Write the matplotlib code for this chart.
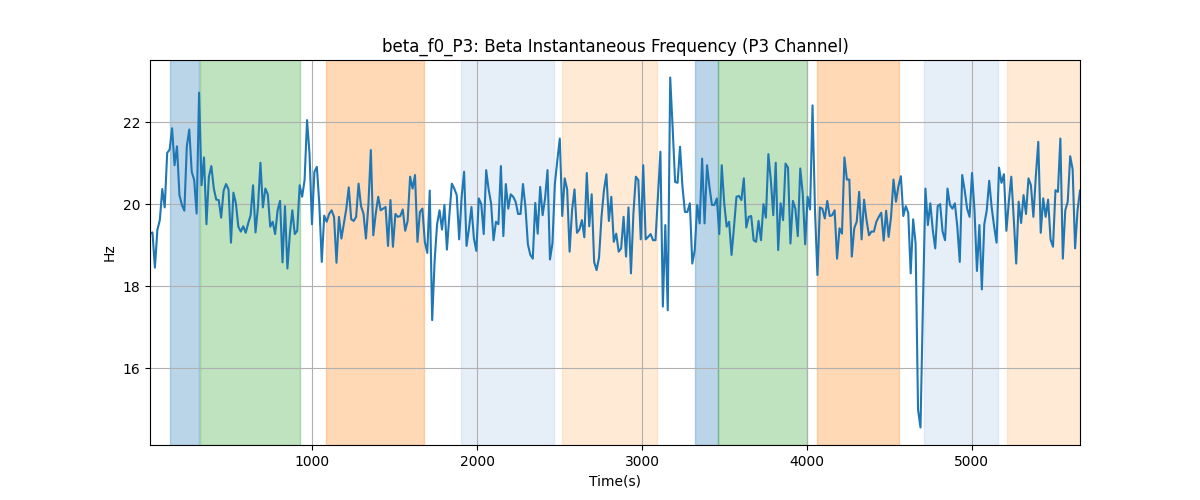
import numpy as np
import matplotlib
matplotlib.use('Agg')
import matplotlib.pyplot as plt

# instantaneous beta frequency (Hz)
freq = [
    19.28, 19.31, 18.45, 19.37, 19.61, 20.37, 19.92, 21.25, 21.33, 21.85,
    20.95, 21.41, 20.22, 19.98, 19.84, 21.41, 21.82, 20.79, 20.59, 19.77,
    22.72, 20.46, 21.14, 19.51, 20.67, 20.93, 20.38, 20.11, 20.10, 19.67,
    20.33, 20.49, 20.36, 19.06, 20.28, 20.02, 19.45, 19.33, 19.46, 19.30,
    19.53, 19.73, 20.46, 19.31, 19.93, 21.01, 19.92, 20.38,
    20.24, 19.45, 19.57, 19.27, 19.85, 20.08, 18.58, 19.95, 18.43, 19.28,
    19.85, 19.27, 19.35, 20.46, 20.18, 20.59, 22.05, 21.24, 19.51, 20.79,
    20.91, 20.00, 18.59, 19.72, 19.57, 19.76, 19.85, 19.69, 18.57, 19.69,
    19.16, 19.53, 19.89, 20.41, 19.63, 19.59, 19.69, 20.50, 19.95, 19.77,
    19.16, 19.98, 21.32, 19.24, 19.77, 20.18,
    19.85, 19.89, 19.93, 18.98, 20.10, 18.96, 19.76, 19.69, 19.71, 19.87,
    19.35, 19.59, 20.67, 20.38, 20.71, 19.08, 19.81, 19.89, 19.08, 18.81,
    20.33, 17.17, 18.63, 19.51, 19.85, 19.38, 19.98, 18.89, 19.73, 20.50,
    20.38, 20.22, 19.14, 20.18, 20.79, 18.98, 19.41, 19.93, 19.16, 18.86,
    20.14, 20.00, 19.27, 20.83, 20.36, 20.02, 19.12, 19.57,
    19.51, 20.93, 19.22, 20.49, 19.89, 20.24, 20.18, 20.06, 19.76, 19.76,
    20.49, 19.93, 19.02, 18.76, 18.67, 20.03, 19.28, 20.42, 19.73, 20.14,
    20.83, 18.65, 19.04, 20.50, 21.07, 21.60, 19.71, 20.63, 20.36, 18.84,
    19.85, 20.36, 19.30, 19.38, 19.61, 19.19, 20.76, 19.46, 20.24, 18.59,
    18.39, 18.70, 19.69, 20.34, 20.73, 19.59, 20.18, 19.08,
    19.28, 18.84, 18.92, 19.69, 18.72, 19.92, 18.31, 19.77, 20.67, 20.59,
    19.14, 20.95, 19.14, 19.20, 19.27, 19.12, 19.12, 20.20, 21.28, 17.50,
    19.49, 17.41, 23.09, 21.85, 20.54, 20.52, 21.40, 20.42, 19.81, 19.81,
    20.02, 18.55, 18.88, 19.98, 19.53, 21.11, 19.53, 20.95, 20.42, 19.98,
    19.98, 20.14, 19.27, 20.95, 20.03, 19.45, 19.57,
    18.76, 19.45, 20.18, 20.20, 20.10, 20.63, 19.43, 19.69, 19.71, 19.12,
    19.08, 19.59, 19.12, 20.00, 19.67, 21.22, 20.59, 19.73, 21.01, 18.88,
    20.02, 19.61, 20.99, 20.89, 19.04, 20.08, 19.89, 19.22, 20.87, 20.26,
    19.02, 20.18, 19.87, 22.41, 19.85, 18.27, 19.92, 19.89, 19.65, 20.08,
    19.71, 19.73, 19.85, 18.67, 19.41, 19.28,
    21.14, 20.60, 20.60, 18.72, 19.41, 19.57, 20.30, 19.14, 20.11, 19.61,
    19.24, 19.33, 19.33, 19.57, 19.69, 19.79, 19.11, 19.84, 19.20, 19.69,
    20.60, 20.06, 20.44, 20.68, 19.71, 19.95, 19.79, 18.31, 19.63, 19.04,
    14.98, 14.55, 17.58, 20.38, 19.49, 20.02, 19.37, 18.92, 19.95, 20.00,
    19.33, 19.12, 20.38, 19.98, 19.89, 20.02, 19.45, 18.59,
    20.71, 20.34, 19.89, 19.69, 20.76, 19.85, 18.37, 19.49, 17.92, 19.51,
    19.85, 20.57, 19.92, 19.46, 19.06, 20.89, 20.52, 20.73, 19.35, 20.06,
    20.67, 19.65, 18.55, 20.06, 19.54, 20.22, 19.76, 20.63, 20.46, 19.69,
    20.68, 21.52, 19.30, 20.14, 19.69, 20.11, 19.14, 18.96, 20.34, 20.30,
    21.60, 18.67, 19.85, 20.06, 21.17, 20.85, 18.92, 19.85, 20.33,
]
t_start, t_end = 16, 5656

# labelled segments: (start, end, colour)
span_start = [137, 319, 1084, 1902, 2514, 3321, 3461, 4061, 4710, 5213]
span_end = [311, 924, 1676, 2466, 3088, 3461, 4000, 4556, 5156, 5700]
span_color = ['tab:blue', 'tab:green', 'tab:orange', '#aec7e8', '#ffbb78',
              'tab:blue', 'tab:green', 'tab:orange', '#aec7e8', '#ffbb78']

t = np.linspace(t_start, t_end, len(freq))

fig, ax = plt.subplots(figsize=(12, 5), dpi=100)
for s, e, c in zip(span_start, span_end, span_color):
    ax.axvspan(s, e, color=c, alpha=0.3)
ax.plot(t, freq, color='tab:blue', linewidth=1.5)
ax.set_xlim(t[0], t[-1])
ax.grid(True)
ax.set_title('beta_f0_P3: Beta Instantaneous Frequency (P3 Channel)')
ax.set_xlabel('Time(s)')
ax.set_ylabel('Hz')

plt.savefig('out.png')
plt.close()
